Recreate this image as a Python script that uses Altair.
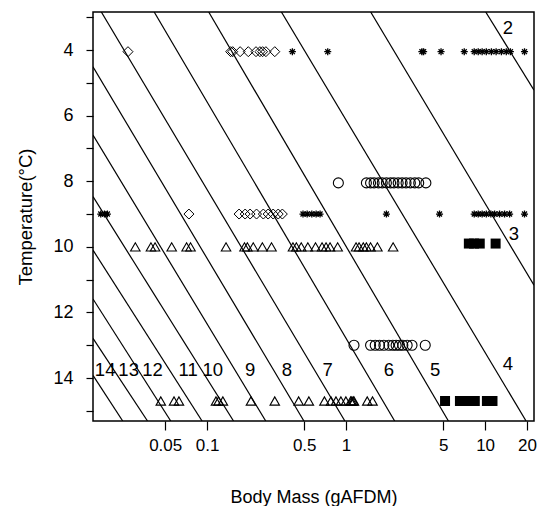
import altair as alt
import pandas as pd

# ---------------- data ----------------
mass_domain = [0.01513, 22.47]      # Body Mass (gAFDM), log axis
temp_domain = [2.84, 15.31]         # Temperature (°C), reversed axis
x_ticks = [0.05, 0.1, 0.5, 1, 5, 10, 20]
y_ticks = [3, 4, 5, 6, 7, 8, 9, 10, 11, 12, 13, 14, 15]

# diagonal isolines: start (mass, temp) -> end (mass, temp)
line_m1 = [0.01513, 0.01513, 0.01513, 0.01513, 0.01513, 0.01513, 0.01513,
           0.01737, 0.04167, 0.1028, 0.3427, 1.503, 10.10]
line_t1 = [13.92, 12.79, 11.59, 10.10, 8.47, 6.59, 4.51,
           2.84, 2.84, 2.84, 2.84, 2.84, 2.84]
line_m2 = [0.02475, 0.03733, 0.05482, 0.09212, 0.1551, 0.2644, 0.4975,
           0.9805, 2.236, 5.446, 19.71, 22.47, 22.47]
line_t2 = [15.31, 15.31, 15.31, 15.31, 15.31, 15.31, 15.31,
           15.31, 15.31, 15.31, 15.31, 11.17, 5.22]

# band labels
band_text = ["2", "3", "4", "5", "6", "7", "8", "9", "10", "11", "12", "13", "14"]
band_mass = [14.6, 16.1, 14.6, 4.37, 2.03, 0.738, 0.375, 0.204, 0.110,
             0.0731, 0.0406, 0.0273, 0.0185]
band_temp = [3.34, 9.61, 13.57, 13.76, 13.76, 13.76, 13.76, 13.76, 13.76,
             13.76, 13.76, 13.76, 13.76]

# open diamonds
diamond_t4_mass = [0.027, 0.148, 0.153, 0.173, 0.198, 0.225, 0.240, 0.251, 0.265, 0.307]
diamond_t9_mass = [0.0741, 0.170, 0.188, 0.204, 0.227, 0.254, 0.275, 0.299, 0.325, 0.348]
# asterisks
aster_t4_mass = [0.411, 0.738, 3.51, 3.61, 4.82, 7.08, 8.35, 8.92, 9.52, 10.2,
                 11.1, 12.0, 13.1, 14.2, 15.2, 19.2]
aster_t9_mass = [0.0172, 0.0183, 0.0192, 0.490, 0.525, 0.567, 0.609, 0.650, 1.95,
                 4.70, 8.35, 8.92, 9.52, 10.2, 11.0, 11.7, 12.7, 13.8, 15.0, 19.2]
# open circles
circle_t8_mass = [0.880, 1.40, 1.50, 1.59, 1.71, 1.82, 1.95, 2.09, 2.21, 2.37,
                  2.53, 2.70, 2.90, 3.12, 3.33, 3.75]
circle_t13_mass = [1.14, 1.50, 1.62, 1.74, 1.87, 2.03, 2.17, 2.29, 2.42, 2.56,
                   2.75, 2.98, 3.71]
# open triangles
tri_t10_mass = [0.0305, 0.0395, 0.0423, 0.0557, 0.0713, 0.0761, 0.137, 0.186,
                0.195, 0.215, 0.250, 0.291, 0.415, 0.439, 0.476, 0.531, 0.603,
                0.672, 0.718, 0.767, 0.870, 1.18, 1.24, 1.33, 1.40, 1.50, 1.68, 2.18]
tri_t147_mass = [0.0465, 0.0579, 0.0628, 0.116, 0.121, 0.130, 0.207, 0.307,
                 0.456, 0.540, 0.699, 0.779, 0.846, 0.918, 0.997, 1.08, 1.10,
                 1.125, 1.14, 1.42, 1.55]
# filled squares
square_t99_mass = [7.64, 8.32, 9.15, 11.9]
square_t147_mass = [5.15, 6.59, 7.36, 8.43, 10.3, 11.3]

row_temps = {"t4": 4.05, "t8": 8.05, "t9": 9.0, "t10": 10.0, "t99": 9.9,
             "t13": 13.0, "t147": 14.7}

# ---------------- build tables ----------------
def pts(masses, temp):
    return pd.DataFrame({"mass": masses, "temp": [temp] * len(masses)})

lines_df = pd.DataFrame({"m1": line_m1, "t1": line_t1, "m2": line_m2, "t2": line_t2})
bands_df = pd.DataFrame({"mass": band_mass, "temp": band_temp, "label": band_text})
diamonds = pd.concat([pts(diamond_t4_mass, row_temps["t4"]), pts(diamond_t9_mass, row_temps["t9"])])
asters = pd.concat([pts(aster_t4_mass, row_temps["t4"]), pts(aster_t9_mass, row_temps["t9"])])
circles = pd.concat([pts(circle_t8_mass, row_temps["t8"]), pts(circle_t13_mass, row_temps["t13"])])
tris = pd.concat([pts(tri_t10_mass, row_temps["t10"]), pts(tri_t147_mass, row_temps["t147"])])
squares = pd.concat([pts(square_t99_mass, row_temps["t99"]), pts(square_t147_mass, row_temps["t147"])])

FONT = "Liberation Sans"
xs = alt.Scale(type="log", domain=mass_domain, nice=False, zero=False)
ys = alt.Scale(domain=temp_domain, reverse=True, nice=False, zero=False)

x_axis = alt.Axis(values=x_ticks, format="~g", title="Body Mass (gAFDM)", grid=False,
                  domain=False, tickSize=9, tickColor="black", tickWidth=1.2,
                  labelPadding=7, labelFontSize=17, labelFont=FONT, labelColor="black",
                  labelFlush=False, labelOverlap=False,
                  titleFont=FONT, titleFontSize=18, titleFontWeight="normal",
                  titleColor="black", titleBaseline="alphabetic", titleY=81)
y_axis = alt.Axis(values=y_ticks, format="d", title="Temperature(°C)", grid=False,
                  domain=False, tickSize=7, tickColor="black", tickWidth=1.2,
                  labelExpr="(datum.value % 2 == 0 && datum.value >= 4 && datum.value <= 14) ? datum.label : ''",
                  labelPadding=13, labelFontSize=18, labelFont=FONT, labelColor="black",
                  labelFlush=False, labelOverlap=False,
                  titleFont=FONT, titleFontSize=18.5, titleFontWeight="normal",
                  titleColor="black", titleBaseline="alphabetic", titleX=-62)

X = lambda f: alt.X(f"{f}:Q", scale=xs, axis=x_axis)
Y = lambda f: alt.Y(f"{f}:Q", scale=ys, axis=y_axis)

lines = alt.Chart(lines_df).mark_rule(color="black", strokeWidth=1.2, clip=True).encode(
    x=X("m1"), y=Y("t1"), x2="m2:Q", y2="t2:Q")

bands = alt.Chart(bands_df).mark_text(font=FONT, fontSize=18.5, color="black",
                                      align="center", baseline="middle").encode(
    x=X("mass"), y=Y("temp"), text="label:N")

diamond_layer = alt.Chart(diamonds).mark_point(shape="diamond", filled=False, size=100,
                                               color="black", strokeWidth=1, opacity=1).encode(
    x=X("mass"), y=Y("temp"))
aster_layer = alt.Chart(asters).mark_point(
    shape="M-1,0L1,0M0,-1L0,1M-0.7,-0.7L0.7,0.7M-0.7,0.7L0.7,-0.7",
    filled=False, size=50, color="black", strokeWidth=1.3, opacity=1).encode(
    x=X("mass"), y=Y("temp"))
circle_layer = alt.Chart(circles).mark_point(shape="circle", filled=False, size=100,
                                             color="black", strokeWidth=1.1, opacity=1).encode(
    x=X("mass"), y=Y("temp"))
tri_layer = alt.Chart(tris).mark_point(shape="triangle-up", filled=False, size=90,
                                       color="black", strokeWidth=1.1, opacity=1).encode(
    x=X("mass"), y=Y("temp"))
square_layer = alt.Chart(squares).mark_point(shape="square", filled=True, size=100,
                                             color="black", opacity=1).encode(
    x=X("mass"), y=Y("temp"))

chart = alt.layer(lines, diamond_layer, aster_layer, circle_layer, tri_layer,
                  square_layer, bands).properties(
    width=441, height=409,
    autosize=alt.AutoSizeParams(type="none"),
    padding={"left": 85, "top": 4, "right": 3, "bottom": 86},
    background="white",
).configure_view(stroke="black", strokeWidth=1.5)

chart.save("out.html", embed_options={"renderer": "svg", "actions": False})
